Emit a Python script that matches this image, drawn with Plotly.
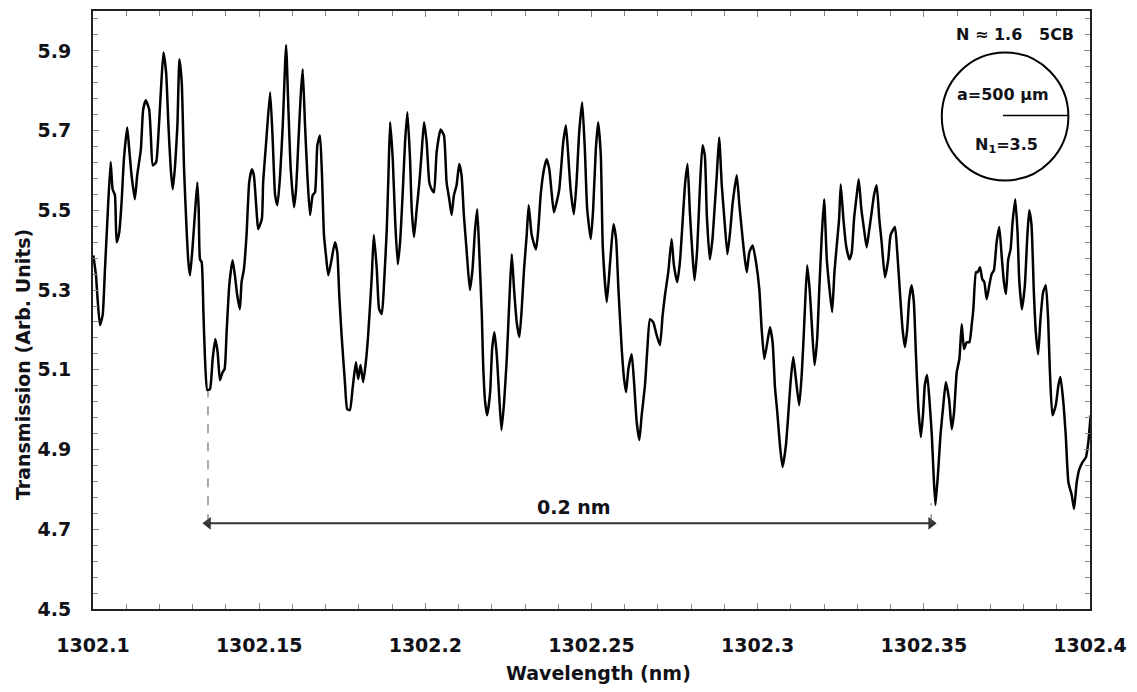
import plotly.graph_objects as go

# Wavelength (nm) and transmission (arb. units)
wavelength = [
    1302.1001,1302.1009,1302.1013,1302.1021,1302.1029,1302.1036,1302.1043,1302.1053,1302.1059,1302.1066,
    1302.1071,1302.1079,1302.1086,1302.1093,1302.1103,1302.1109,1302.1116,1302.1126,1302.1133,1302.1144,
    1302.1151,1302.1159,1302.1169,1302.1174,1302.1180,1302.1190,1302.1196,1302.1204,1302.1212,1302.1220,
    1302.1227,1302.1234,1302.1240,1302.1247,1302.1254,1302.1260,1302.1267,1302.1274,1302.1282,1302.1287,
    1302.1292,1302.1300,1302.1307,1302.1314,1302.1318,1302.1322,1302.1327,1302.1332,1302.1337,1302.1344,
    1302.1352,1302.1360,1302.1368,1302.1375,1302.1382,1302.1390,1302.1396,1302.1402,1302.1410,1302.1420,
    1302.1427,1302.1434,1302.1442,1302.1447,1302.1454,1302.1462,1302.1470,1302.1478,1302.1484,1302.1493,
    1302.1497,1302.1508,
    1302.1512,1302.1521,1302.1533,1302.1541,1302.1548,1302.1555,1302.1563,1302.1571,1302.1581,1302.1588,
    1302.1595,1302.1605,1302.1611,1302.1618,1302.1625,1302.1631,1302.1638,1302.1645,1302.1653,1302.1661,
    1302.1668,1302.1675,1302.1683,1302.1689,1302.1695,1302.1701,1302.1708,1302.1718,1302.1728,1302.1735,
    1302.1741,1302.1748,1302.1758,1302.1765,1302.1773,1302.1781,1302.1791,1302.1798,1302.1805,1302.1813,
    1302.1821,1302.1828,1302.1839,1302.1845,1302.1854,1302.1861,1302.1869,1302.1876,1302.1884,1302.1889,
    1302.1894,1302.1902,1302.1909,1302.1917,1302.1924,1302.1932,1302.1939,1302.1946,1302.1954,1302.1959,
    1302.1966,1302.1974,1302.1982,1302.1989,1302.1996,1302.2004,1302.2012,1302.2019,1302.2026,
    1302.2034,1302.2046,1302.2056,1302.2064,1302.2072,1302.2079,1302.2086,1302.2094,1302.2102,1302.2109,
    1302.2116,1302.2124,1302.2134,1302.2142,1302.2149,1302.2156,1302.2162,1302.2170,1302.2174,1302.2180,
    1302.2186,1302.2195,1302.2201,1302.2208,1302.2215,1302.2221,1302.2229,1302.2237,1302.2245,1302.2253,
    1302.2260,1302.2267,1302.2275,1302.2283,1302.2290,1302.2297,1302.2305,1302.2311,1302.2320,1302.2333,
    1302.2340,1302.2347,1302.2357,1302.2365,1302.2373,1302.2380,1302.2387,1302.2395,1302.2403,1302.2410,
    1302.2415,1302.2423,1302.2430,1302.2437,1302.2447,1302.2455,1302.2463,1302.2472,1302.2480,1302.2487,
    1302.2498,1302.2505,1302.2513,1302.2520,1302.2528,1302.2534,1302.2546,
    1302.2556,1302.2566,1302.2574,1302.2581,1302.2591,1302.2598,1302.2604,1302.2611,1302.2621,1302.2628,
    1302.2636,1302.2644,1302.2651,1302.2661,1302.2668,1302.2676,1302.2686,1302.2696,1302.2706,1302.2714,
    1302.2721,1302.2731,1302.2741,1302.2748,1302.2758,1302.2766,1302.2774,1302.2782,1302.2789,1302.2796,
    1302.2804,1302.2810,1302.2818,1302.2826,1302.2834,1302.2841,1302.2847,1302.2856,1302.2864,1302.2871,
    1302.2877,1302.2884,1302.2892,1302.2899,1302.2909,1302.2917,1302.2925,1302.2937,1302.2945,1302.2952,
    1302.2959,1302.2967,1302.2975,1302.2985,1302.2995,1302.3005,1302.3012,1302.3020,1302.3029,1302.3037,1302.3045,1302.3052,
    1302.3059,1302.3067,1302.3075,1302.3085,1302.3092,1302.3099,1302.3107,1302.3115,1302.3125,1302.3133,
    1302.3140,1302.3149,1302.3157,1302.3163,1302.3171,1302.3179,1302.3185,1302.3193,1302.3200,1302.3208,
    1302.3215,1302.3224,1302.3231,1302.3238,1302.3245,1302.3250,1302.3258,1302.3266,1302.3276,1302.3283,
    1302.3290,1302.3298,1302.3304,1302.3312,1302.3320,1302.3328,1302.3336,1302.3343,1302.3350,1302.3358,
    1302.3366,1302.3373,1302.3383,1302.3393,1302.3400,1302.3413,1302.3420,1302.3428,1302.3436,1302.3443,
    1302.3450,1302.3456,1302.3463,1302.3470,1302.3476,1302.3483,1302.3491,1302.3498,1302.3503,1302.3510,
    1302.3518,1302.3524,1302.3530,1302.3535,1302.3543,1302.3550,1302.3558,
    1302.3566,1302.3576,1302.3584,1302.3591,1302.3599,1302.3607,1302.3614,1302.3621,1302.3629,1302.3637,
    1302.3644,1302.3649,1302.3657,1302.3662,1302.3669,1302.3676,1302.3682,1302.3689,1302.3697,1302.3704,
    1302.3711,1302.3719,1302.3727,1302.3735,1302.3741,1302.3747,1302.3754,1302.3761,1302.3767,1302.3775,
    1302.3782,1302.3787,1302.3795,1302.3804,1302.3811,1302.3817,1302.3824,1302.3831,1302.3837,1302.3844,
    1302.3851,1302.3859,1302.3867,1302.3874,1302.3879,1302.3887,1302.3897,1302.3905,1302.3911,1302.3919,
    1302.3927,1302.3935,1302.3945,1302.3952,1302.3960,1302.3968,1302.3978,1302.3988,1302.3995,1302.4002,
]

transmission = [
    5.387,5.337,5.287,5.212,5.237,5.352,5.470,5.621,5.553,5.538,
    5.420,5.445,5.520,5.628,5.708,5.653,5.588,5.528,5.588,5.653,
    5.753,5.776,5.753,5.688,5.613,5.621,5.678,5.796,5.896,5.846,
    5.713,5.603,5.553,5.613,5.713,5.879,5.821,5.603,5.445,5.370,
    5.337,5.412,5.495,5.570,5.503,5.377,5.370,5.252,5.127,5.049,
    5.052,5.127,5.177,5.144,5.074,5.094,5.102,5.194,5.312,5.375,
    5.337,5.287,5.252,5.320,5.352,5.438,5.570,5.603,5.588,5.488,
    5.453,5.478,
    5.570,5.671,5.796,5.671,5.538,5.513,5.588,5.713,5.914,5.753,
    5.603,5.508,5.553,5.671,5.788,5.854,5.713,5.588,5.488,5.538,
    5.545,5.663,5.688,5.588,5.438,5.387,5.337,5.377,5.420,5.395,
    5.287,5.187,5.069,5.001,4.999,5.052,5.119,5.077,5.112,5.069,
    5.119,5.187,5.337,5.438,5.352,5.252,5.240,5.320,5.453,5.588,
    5.721,5.628,5.478,5.365,5.420,5.545,5.671,5.746,5.628,5.503,
    5.433,5.503,5.570,5.646,5.721,5.671,5.570,5.553,5.545,
    5.646,5.703,5.688,5.570,5.528,5.488,5.538,5.563,5.616,5.588,
    5.488,5.402,5.300,5.352,5.445,5.503,5.402,5.237,5.112,5.019,
    4.986,5.044,5.152,5.194,5.137,5.052,4.949,5.019,5.127,5.277,
    5.390,5.302,5.219,5.182,5.252,5.352,5.438,5.513,5.438,5.402,
    5.453,5.538,5.603,5.628,5.603,5.545,5.495,5.520,5.553,5.621,
    5.671,5.713,5.638,5.553,5.490,5.570,5.696,5.771,5.653,5.503,
    5.428,5.503,5.653,5.721,5.638,5.407,5.270,
    5.370,5.465,5.428,5.302,5.152,5.077,5.044,5.102,5.139,5.069,
    4.969,4.924,4.986,5.062,5.152,5.227,5.219,5.187,5.162,5.237,
    5.287,5.345,5.428,5.362,5.320,5.370,5.470,5.570,5.616,5.495,
    5.387,5.325,5.402,5.553,5.663,5.638,5.488,5.377,5.428,5.513,
    5.588,5.683,5.563,5.488,5.390,5.445,5.520,5.588,5.513,5.453,
    5.395,5.345,5.395,5.412,5.370,5.302,5.202,5.127,5.169,5.207,5.169,5.057,
    4.994,4.911,4.856,4.911,4.986,5.069,5.132,5.077,5.011,5.094,
    5.212,5.362,5.295,5.212,5.112,5.177,5.295,5.438,5.528,5.377,
    5.312,5.245,5.345,5.412,5.478,5.565,5.478,5.412,5.377,5.395,
    5.478,5.538,5.578,5.503,5.453,5.407,5.453,5.495,5.538,5.563,
    5.478,5.420,5.332,5.377,5.438,5.458,5.395,5.295,5.202,5.157,
    5.202,5.277,5.312,5.270,5.144,5.011,4.931,4.994,5.062,5.087,
    5.011,4.936,4.826,4.761,4.844,4.936,5.006,
    5.069,5.026,4.951,4.994,5.094,5.127,5.214,5.152,5.169,5.169,
    5.212,5.252,5.345,5.345,5.357,5.327,5.320,5.277,5.312,5.340,
    5.350,5.420,5.458,5.377,5.320,5.290,5.377,5.402,5.470,5.528,
    5.445,5.327,5.252,5.312,5.428,5.500,5.463,5.295,5.194,5.139,
    5.227,5.295,5.312,5.227,5.102,4.986,5.011,5.062,5.082,5.026,
    4.936,4.818,4.786,4.751,4.818,4.851,4.869,4.881,4.919,4.986,
]
assert len(wavelength) == len(transmission)

x_range = [1302.1, 1302.4]
y_range = [4.5, 6.0]
x_tickvals = [1302.1, 1302.15, 1302.2, 1302.25, 1302.3, 1302.35, 1302.4]
x_ticktext = ["1302.1", "1302.15", "1302.2", "1302.25", "1302.3", "1302.35", "1302.4"]
y_tickvals = [4.5, 4.7, 4.9, 5.1, 5.3, 5.5, 5.7, 5.9]
y_ticktext = ["4.5", "4.7", "4.9", "5.1", "5.3", "5.5", "5.7", "5.9"]

# Spacing marker (0.2 nm between two dips)
span_x = [1302.1346, 1302.3522]
span_top = [5.045, 4.765]
span_level = 4.715

FONT = "DejaVu Sans"
TXT = "#111118"

fig = go.Figure()
fig.add_trace(go.Scatter(
    x=wavelength, y=transmission, mode="lines",
    line=dict(color="black", width=2.5, shape="spline", smoothing=0.5),
    hoverinfo="skip", showlegend=False,
))
# double-headed arrow for the 0.2 nm spacing
fig.add_trace(go.Scatter(
    x=span_x, y=[span_level, span_level], mode="lines+markers",
    line=dict(color="#333", width=2),
    marker=dict(symbol=["triangle-left", "triangle-right"], size=11, color="#333"),
    hoverinfo="skip", showlegend=False,
))

axis_common = dict(
    showline=True, linecolor="#222", linewidth=2, mirror="ticks",
    ticks="inside", ticklen=6, tickwidth=1, tickcolor="#888",
    showgrid=False, zeroline=False,
    tickfont=dict(family=FONT, size=19, weight="bold", color=TXT),
)

fig.update_xaxes(
    range=x_range, tickmode="array", tickvals=x_tickvals, ticktext=x_ticktext,
    minor=dict(dtick=0.01, tick0=1302.1, ticks="inside", ticklen=5, tickcolor="#888", tickwidth=1),
    ticklabelstandoff=18, **axis_common,
)
fig.update_yaxes(
    range=y_range, tickmode="array", tickvals=y_tickvals, ticktext=y_ticktext,
    minor=dict(dtick=0.04, tick0=4.5, ticks="inside", ticklen=5, tickcolor="#888", tickwidth=1),
    ticklabelstandoff=16, **axis_common,
)

annotations = [
    dict(text="Wavelength (nm)", xref="paper", yref="paper", x=0.5075, y=-0.107,
         xanchor="center", yanchor="middle", showarrow=False,
         font=dict(family=FONT, size=19, weight="bold", color=TXT)),
    dict(text="Transmission (Arb. Units)", xref="paper", yref="paper", x=-0.0702, y=0.408,
         xanchor="center", yanchor="middle", textangle=-90, showarrow=False,
         font=dict(family=FONT, size=19, weight="bold", color=TXT)),
    dict(text="N \u2248 1.6\u00a0\u00a0 5CB", xref="x", yref="y", x=1302.3774, y=5.94,
         xanchor="center", yanchor="middle", showarrow=False,
         font=dict(family=FONT, size=16, weight="bold", color=TXT)),
    dict(text="a=500 \u03bcm", xref="x", yref="y", x=1302.3737, y=5.791,
         xanchor="center", yanchor="middle", showarrow=False,
         font=dict(family=FONT, size=16, weight="bold", color=TXT)),
    dict(text="N<sub>1</sub>=3.5", xref="x", yref="y", x=1302.3750, y=5.6625,
         xanchor="center", yanchor="middle", showarrow=False,
         font=dict(family=FONT, size=16, weight="bold", color=TXT)),
    dict(text="0.2 nm", xref="x", yref="y", x=1302.2447, y=4.755,
         xanchor="center", yanchor="middle", showarrow=False,
         font=dict(family=FONT, size=19, weight="bold", color=TXT)),
]

shapes = [
    dict(type="line", xref="x", yref="y", x0=span_x[0], x1=span_x[0],
         y0=span_level, y1=span_top[0], line=dict(color="#555", width=1, dash="dash")),
    dict(type="line", xref="x", yref="y", x0=span_x[1], x1=span_x[1],
         y0=span_level, y1=span_top[1], line=dict(color="#555", width=1, dash="dash")),
    dict(type="circle", xref="x", yref="y", x0=1302.3554, x1=1302.3935, y0=5.575, y1=5.896,
         line=dict(color="black", width=2)),
    dict(type="line", xref="x", yref="y", x0=1302.3738, x1=1302.3934, y0=5.738, y1=5.738,
         line=dict(color="black", width=1.5)),
]

fig.update_layout(
    width=1137, height=692,
    margin=dict(l=93, r=47, t=9, b=83),
    paper_bgcolor="white", plot_bgcolor="white",
    annotations=annotations, shapes=shapes,
    showlegend=False,
)

fig.write_html("out.html")
